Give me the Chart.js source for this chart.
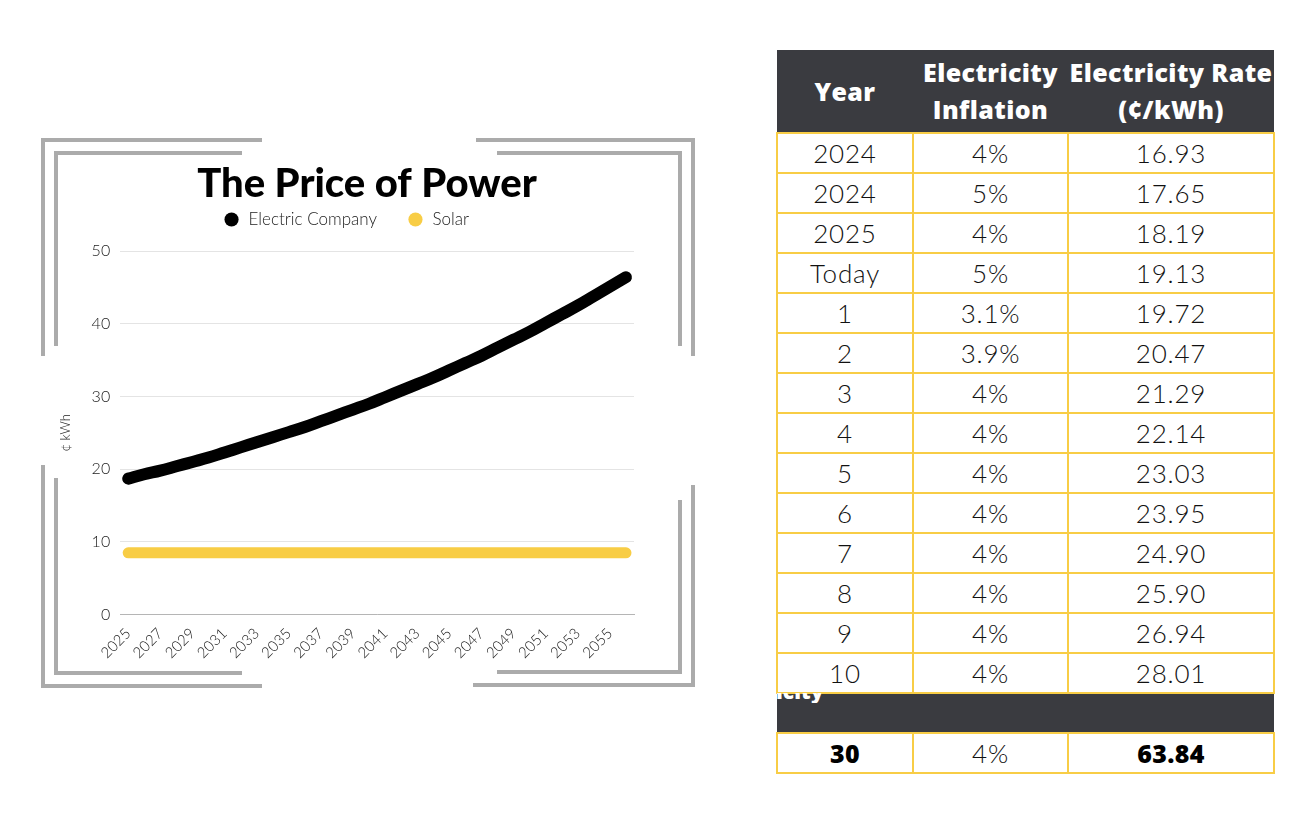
<!DOCTYPE html>
<html><head><meta charset="utf-8">
<script src="https://cdn.jsdelivr.net/npm/chart.js@4.4.1/dist/chart.umd.min.js"></script>
<style>
html,body{margin:0;padding:0;background:#fff;width:1308px;height:828px;overflow:hidden;font-family:Lato,"Open Sans",sans-serif;}
.fr{position:absolute;background:#ababab;}
#wrap{position:absolute;left:58px;top:150px;width:620px;height:514px;}
#tbl{position:absolute;left:776px;top:50px;border-collapse:collapse;table-layout:fixed;}
#tbl td{border:2px solid #f8cd46;text-align:center;height:38px;padding:0;font-size:26px;font-weight:300;color:#111;line-height:38px;letter-spacing:0.8px;}
#tbl th{background:#3a3b40;color:#fff;font-family:"Open Sans",Lato,sans-serif;font-weight:800;font-size:25px;line-height:37px;height:82px;padding:0;border:none;letter-spacing:0.4px;}
#tbl tr.band td{background:#3a3b40;border-left:none;border-right:none;}
#tbl td.b{font-family:"Open Sans",Lato,sans-serif;font-weight:800;font-size:25px;letter-spacing:0.3px;color:#000;}
</style></head>
<body>
<!-- frame brackets -->
<div class="fr" style="left:41px;top:138px;width:4px;height:218px"></div>
<div class="fr" style="left:41px;top:138px;width:221px;height:4px"></div>
<div class="fr" style="left:54px;top:151px;width:4px;height:195px"></div>
<div class="fr" style="left:54px;top:151px;width:188px;height:4px"></div>
<div class="fr" style="left:476px;top:138px;width:219px;height:4px"></div>
<div class="fr" style="left:691px;top:138px;width:4px;height:218px"></div>
<div class="fr" style="left:497px;top:151px;width:185px;height:4px"></div>
<div class="fr" style="left:678px;top:151px;width:4px;height:195px"></div>
<div class="fr" style="left:41px;top:465px;width:4px;height:223px"></div>
<div class="fr" style="left:41px;top:684px;width:221px;height:4px"></div>
<div class="fr" style="left:54px;top:478px;width:4px;height:197px"></div>
<div class="fr" style="left:54px;top:671px;width:188px;height:4px"></div>
<div class="fr" style="left:691px;top:485px;width:4px;height:202px"></div>
<div class="fr" style="left:473px;top:683px;width:222px;height:4px"></div>
<div class="fr" style="left:678px;top:500px;width:4px;height:174px"></div>
<div class="fr" style="left:497px;top:670px;width:185px;height:4px"></div>

<div id="wrap"><canvas id="c"></canvas></div>

<table id="tbl">
<colgroup><col style="width:136px"><col style="width:155px"><col style="width:206px"></colgroup>
<thead><tr><th>Year</th><th>Electricity<br>Inflation</th><th>Electricity Rate<br>(¢/kWh)</th></tr></thead>
<tbody id="tb"></tbody>
</table>
<div style="position:absolute;left:776px;top:693px;width:60px;height:10px;overflow:hidden;"><div style="position:absolute;left:0;top:-13px;color:#fff;font-family:'Open Sans',sans-serif;font-weight:800;font-size:21px;line-height:22px;">icity</div></div>

<script>
const years = ["2025","2026","2027","2028","2029","2030","2031","2032","2033","2034","2035","2036","2037","2038","2039","2040","2041","2042","2043","2044","2045","2046","2047","2048","2049","2050","2051","2052","2053","2054","2055","2056"];
const electricCompany = [18.7,19.3,19.8,20.4,21.0,21.6,22.3,23.0,23.7,24.4,25.1,25.8,26.6,27.4,28.2,29.0,29.9,30.8,31.7,32.6,33.6,34.6,35.6,36.7,37.8,38.9,40.1,41.3,42.5,43.8,45.1,46.4];
const solar = [8.5,8.5,8.5,8.5,8.5,8.5,8.5,8.5,8.5,8.5,8.5,8.5,8.5,8.5,8.5,8.5,8.5,8.5,8.5,8.5,8.5,8.5,8.5,8.5,8.5,8.5,8.5,8.5,8.5,8.5,8.5,8.5];
const yTicks = [0,10,20,30,40,50];

const tableYear = ["2024","2024","2025","Today","1","2","3","4","5","6","7","8","9","10"];
const tableInflation = ["4%","5%","4%","5%","3.1%","3.9%","4%","4%","4%","4%","4%","4%","4%","4%"];
const tableRate = ["16.93","17.65","18.19","19.13","19.72","20.47","21.29","22.14","23.03","23.95","24.90","25.90","26.94","28.01"];
const totalYear = "30", totalInflation = "4%", totalRate = "63.84";

const tb = document.getElementById('tb');
let html = '';
for (let i = 0; i < tableYear.length; i++) {
  html += '<tr><td>' + tableYear[i] + '</td><td>' + tableInflation[i] + '</td><td>' + tableRate[i] + '</td></tr>';
}
html += '<tr class="band"><td></td><td></td><td></td></tr>';
html += '<tr><td class="b">' + totalYear + '</td><td>' + totalInflation + '</td><td class="b">' + totalRate + '</td></tr>';
tb.innerHTML = html;

const BLACK = '#000000', YELLOW = '#f8cd45';
const boxTweaks = {id: 'boxTweaks', beforeInit(chart) {
  const lg = chart.legend; const f = lg.fit;
  lg.fit = function() { f.call(this); this.height += 13; };
  const tt = chart.titleBlock;
  if (tt) { const d = tt.draw; tt.draw = function() { const ctx = this.ctx; ctx.save(); ctx.translate(21, 0); d.apply(this, arguments); ctx.restore(); }; }
}};
new Chart(document.getElementById('c'), {
  type: 'line',
  data: {
    labels: years,
    datasets: [
      {label:'Electric Company', data: electricCompany, borderColor: BLACK, backgroundColor: BLACK, borderWidth: 12, pointRadius: 0, borderCapStyle:'round', borderJoinStyle:'round', tension: 0.4},
      {label:'Solar', data: solar, borderColor: YELLOW, backgroundColor: YELLOW, borderWidth: 11, pointRadius: 0, borderCapStyle:'round', tension: 0}
    ]
  },
  plugins: [boxTweaks],
  options: {
    responsive: true, maintainAspectRatio: false, animation: false,
    layout: {padding: {left: 0, right: 44, top: 8, bottom: 0}},
    plugins: {
      title: {display: true, text: 'The Price of Power', color: '#000', font: {family: 'Lato', size: 40, weight: '900', lineHeight: 1.2}, padding: {top: 2, bottom: -27}},
      legend: {position: 'top', labels: {usePointStyle: true, pointStyle: 'circle', boxHeight: 10, padding: 30, color: '#222', font: {family: 'Lato', size: 17, weight: '300'},
        generateLabels: (chart) => Chart.defaults.plugins.legend.labels.generateLabels(chart).map(l => Object.assign(l, {lineWidth: 0, pointStyle: 'circle'}))}},
      tooltip: {enabled: false}
    },
    scales: {
      x: {offset: true, grid: {display: false}, border: {display: true, color: '#b5b5b5', width: 1},
        ticks: {autoSkip: false, maxRotation: 45, minRotation: 45, color: '#222', font: {family: 'Lato', size: 15, weight: '300'}, padding: 2,
          callback: function(v, i){ return i % 2 === 0 ? this.getLabelForValue(v) : null; }}},
      y: {min: 0, max: 50, afterBuildTicks: (s) => { s.ticks = yTicks.map(v => ({value: v})); },
        grid: {color: '#e4e4e4', drawTicks: false}, border: {display: false},
        ticks: {color: '#222', font: {family: 'Lato', size: 16, weight: '300'}, padding: 10},
        title: {display: true, text: '¢ kWh', color: '#222', font: {family: 'Lato', size: 13, weight: '300'}, padding: {top: 0, bottom: 8}}}
    }
  }
});
</script>
</body></html>
